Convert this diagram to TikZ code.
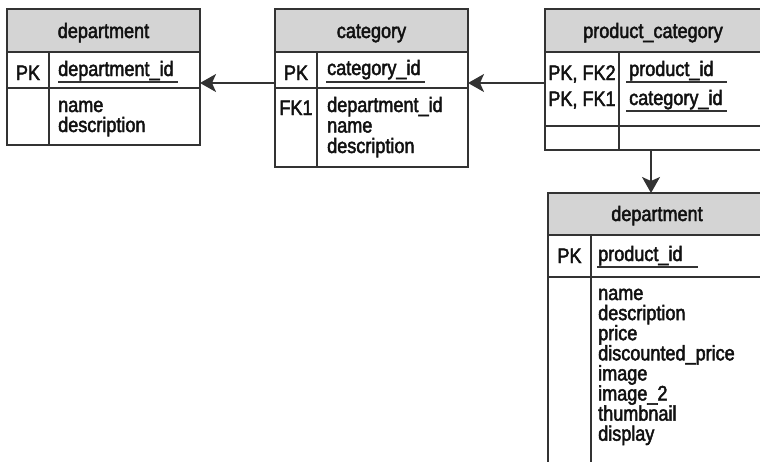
\documentclass[tikz,border=0pt]{standalone}
\usepackage{fontspec}
\setmainfont{Liberation Sans}[FakeStretch=0.86, FakeBold=2.2]
\usepackage{tikz}
\usetikzlibrary{arrows.meta}
\definecolor{lineclr}{HTML}{333333}
\definecolor{hdrclr}{HTML}{D4D4D4}
\definecolor{txtclr}{HTML}{111111}
\newcommand{\tbfont}{\fontsize{21pt}{20pt}\selectfont}
\tikzset{
	tbl/.style = {draw = lineclr, line width = 1.9pt, anchor = north west, inner sep = 0pt, outer sep = 0pt},
	hdr/.style = {draw = lineclr, fill = hdrclr, line width = 1.9pt},
	sep/.style = {draw = lineclr, line width = 1.9pt},
	ul/.style = {draw = lineclr, line width = 1.2pt},
	fk/.style = {draw = lineclr, line width = 1.8pt, -{Stealth[length = 16pt, width = 18pt, inset = 4pt]}},
	txt/.style = {anchor = base west, inner sep = 0pt, text = txtclr, font = \tbfont},
	key/.style = {anchor = base, inner sep = 0pt, text = txtclr, font = \tbfont}
}

\begin{document}
\begin{tikzpicture} [x = 1pt, y = -1pt]
	\useasboundingbox (0,0) rectangle (760,461);
	\clip (0,0) rectangle (760,461);
	% department
	\node [tbl, minimum width = 193pt, minimum height = 136pt] (dept) at (7,9) {};
	\draw [hdr] (dept.north west) rectangle (200,52);
	\draw [sep] (7,88) -- (200,88) (49,52) -- (49,145);
	\node [key] (depttitle) at (103.5,38) {department};
	\node [key] (deptpk) at (28,80) {PK};
	\node [txt] (deptid) at (58,76) {department\_id};
	\draw [ul] (58,82) -- (178,82);
	\foreach \f [count = \i from 0] in {name, description}
		\node [txt] (deptf\i) at (58,112+20*\i) {\f};
	% category
	\node [tbl, minimum width = 193pt, minimum height = 158pt] (cat) at (275,9) {};
	\draw [hdr] (cat.north west) rectangle (468,52);
	\draw [sep] (275,88) -- (468,88) (317,52) -- (317,167);
	\node [key] (cattitle) at (371.5,38) {category};
	\node [key] (catpk) at (296,80) {PK};
	\node [txt] (catid) at (327,75) {category\_id};
	\draw [ul] (326,82) -- (425,82);
	\node [key] (catfk) at (296,115) {FK1};
	\foreach \f [count = \i from 0] in {department\_id, name, description}
		\node [txt] (catf\i) at (327,112+20.5*\i) {\f};
	% product_category
	\node [tbl, minimum width = 216pt, minimum height = 141pt] (prodcat) at (545,9) {};
	\draw [hdr] (prodcat.north west) rectangle (761,52);
	\draw [sep] (545,126) -- (761,126) (619,52) -- (619,150);
	\node [key] (pctitle) at (653,38) {product\_category};
	\node [key] (pckeya) at (582,80) {PK, FK2};
	\node [key] (pckeyb) at (582,106) {PK, FK1};
	\node [txt] (pcprod) at (629,76) {product\_id};
	\node [txt] (pccat) at (629,105) {category\_id};
	\draw [ul] (626,82) -- (727,82);
	\draw [ul] (626,111) -- (727,111);
	% product (titled department)
	\node [tbl, minimum width = 218pt, minimum height = 290pt] (prod) at (548,193) {};
	\draw [hdr] (prod.north west) rectangle (766,235);
	\draw [sep] (548,277) -- (766,277) (591,235) -- (591,483);
	\node [key] (prodtitle) at (657,221) {department};
	\node [key] (prodpk) at (569.5,263) {PK};
	\node [txt] (prodid) at (598,261) {product\_id};
	\draw [ul] (597,267) -- (698,267);
	\foreach \f [count = \i from 0] in {name, description, price, discounted\_price, image, image\_2, thumbnail, display}
		\node [txt] (prodf\i) at (598,300+20.1*\i) {\f};
	% relations
	\draw [fk] ([yshift = -74pt]cat.north west) -- ([yshift = -74pt]dept.north east);
	\draw [fk] ([yshift = -74pt]prodcat.north west) -- ([yshift = -74pt]cat.north east);
	\draw [fk] ([xshift = 106pt]prodcat.south west) -- ([xshift = 103pt]prod.north west);
\end{tikzpicture}
\end{document}
